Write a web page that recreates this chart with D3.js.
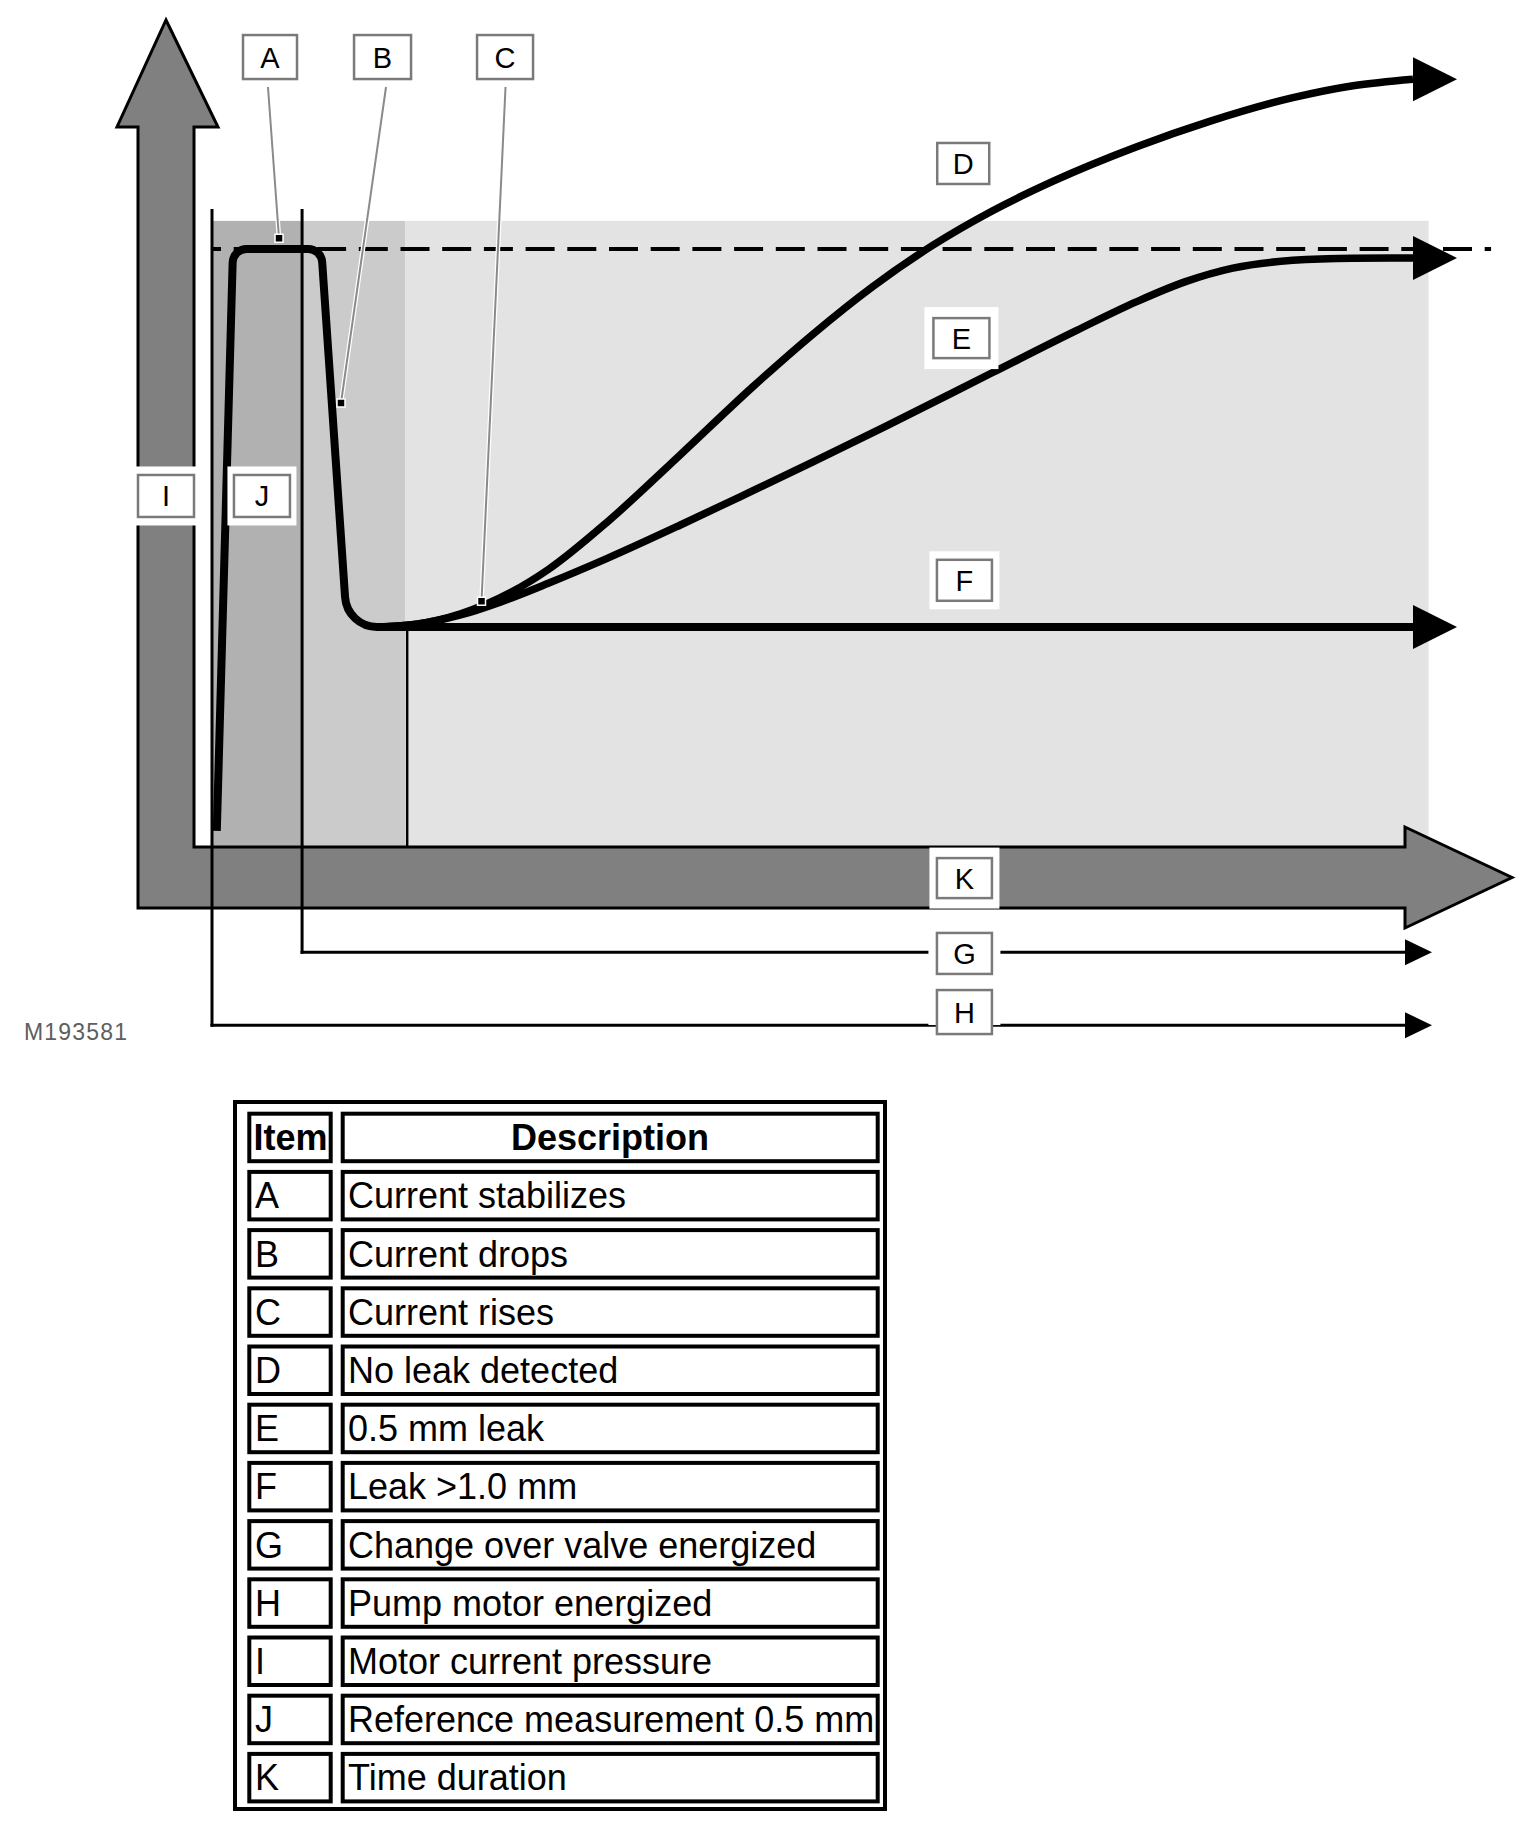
<!DOCTYPE html>
<html><head><meta charset="utf-8">
<script src="https://cdn.jsdelivr.net/npm/d3@7"></script>
<style>body{margin:0;background:#fff}svg{display:block}</style>
</head><body>
<svg id="chart" width="1527" height="1830"></svg>
<script>
// ---------------- DATA (time units 0..100, current units: 100 = reference level) ----------------
const referenceLevel = 100;
const leakLevel = 36.8;                 // F : leak > 1.0 mm plateau
const mainTime    = [0.4, 1.75, 9.1, 11.25, 100];
const mainCurrent = [2.7, 100, 100, 36.8, 36.8];

const noLeakTime    = [14, 17, 20.7, 25, 28, 33, 39, 45, 50, 55, 60, 65, 70, 77, 83, 90, 95, 100];
const noLeakCurrent = [36.8, 37.25, 39.0, 42.7, 46.4, 54.5, 65.6, 76.9, 85.7, 93.7, 100.6, 106.4, 111.3, 117.1, 121.3, 125.3, 127.3, 128.4];

const leak05Time    = [14, 17, 20.7, 24, 28, 33, 39, 45, 50, 56, 65, 72, 77, 81, 85, 90, 95, 100];
const leak05Current = [36.8, 37.25, 38.8, 40.95, 44.1, 48.35, 53.85, 59.55, 64.35, 70.25, 79.35, 86.4, 91.2, 94.5, 96.8, 98.1, 98.45, 98.5];

// phases: pump motor on (H), change over valve (G), measuring phase start, end
const phaseStart = [0, 7.5, 16.1];
const phaseEnd   = [7.5, 16.1, 101.3];
const shadeTop = 104.7;

const items = ["A","B","C","D","E","F","G","H","I","J","K"];
const descriptions = ["Current stabilizes","Current drops","Current rises","No leak detected","0.5 mm leak",
  "Leak >1.0 mm","Change over valve energized","Pump motor energized","Motor current pressure",
  "Reference measurement 0.5 mm","Time duration"];

// callout points (time, current) and label anchors
const calloutIds   = ["A","B","C"];
const calloutTime  = [5.58, 10.74, 22.44];
const calloutValue = [101.8, 74.25, 41.1];
const calloutTopT  = [4.66, 14.49, 24.44];

// ---------------- STYLE / LAYOUT ----------------
const svg = d3.select("#chart");
const x = d3.scaleLinear().domain([0, 100]).range([212, 1413]);
const y = d3.scaleLinear().domain([0, 100]).range([847, 249]);
const shadeColors = ["#b1b1b1", "#cbcbcb", "#e3e3e3"];
const axisFill = "#808080";
const fontFam = "'Liberation Sans', Arial, sans-serif";

// shaded phases
svg.append("g").selectAll("rect").data(phaseStart).join("rect")
  .attr("x", (d,i) => x(d)).attr("width", (d,i) => x(phaseEnd[i]) - x(d))
  .attr("y", y(shadeTop)).attr("height", y(0) - y(shadeTop))
  .attr("fill", (d,i) => shadeColors[i]);

// vertical separator under plateau
svg.append("line").attr("x1", x(16.25)).attr("x2", x(16.25))
  .attr("y1", y(leakLevel)).attr("y2", y(0)).attr("stroke", "#000").attr("stroke-width", 2.5);

// L-shaped axis arrows (I and K)
const ax = {l:138, r:194, headY:127, tipY:20, headL:117, headR:218, tipX:1512, top:847, bot:908, headT:827, headB:928, baseX:1405};
const axisPts = [
  [(ax.l+ax.r)/2, ax.tipY], [ax.headR, ax.headY], [ax.r, ax.headY], [ax.r, ax.top],
  [ax.baseX, ax.top], [ax.baseX, ax.headT], [ax.tipX, (ax.top+ax.bot)/2], [ax.baseX, ax.headB],
  [ax.baseX, ax.bot], [ax.l, ax.bot], [ax.l, ax.headY], [ax.headL, ax.headY]
];
svg.append("path").attr("d", "M" + axisPts.map(p => p.join(",")).join("L") + "Z")
  .attr("fill", axisFill).attr("stroke", "#000").attr("stroke-width", 3).attr("stroke-linejoin", "miter");

// H and G vertical + horizontal arrows
const phaseLineTop = 106.7;
const gV = -17.6, hV = -29.8;
const arrowEndX = 1405;
[[0, hV], [7.5, gV]].forEach(([t, v]) => {
  svg.append("line").attr("x1", x(t)).attr("x2", x(t)).attr("y1", y(phaseLineTop)).attr("y2", y(v) + 1.5)
    .attr("stroke", "#000").attr("stroke-width", 3);
  svg.append("line").attr("x1", x(t) - 1.5).attr("x2", arrowEndX).attr("y1", y(v)).attr("y2", y(v))
    .attr("stroke", "#000").attr("stroke-width", 3);
  svg.append("path").attr("d", `M${arrowEndX},${y(v)-13}L${arrowEndX+27},${y(v)}L${arrowEndX},${y(v)+13}Z`).attr("fill", "#000");
});

// dashed reference level
svg.append("line").attr("x1", x(0)).attr("x2", x(106.5)).attr("y1", y(referenceLevel)).attr("y2", y(referenceLevel))
  .attr("stroke", "#000").attr("stroke-width", 4).attr("stroke-dasharray", "29,12.7").attr("stroke-dashoffset", 20);

// curves
const curveG = svg.append("g").attr("fill", "none").attr("stroke", "#000");
const cornerRadii = [0, 14, 14, 32, 0];
const mp = d3.path();
const mPts = mainTime.map((t,i) => [x(t), y(mainCurrent[i])]);
mp.moveTo(mPts[0][0], mPts[0][1]);
for (let i = 1; i < mPts.length - 1; i++) mp.arcTo(mPts[i][0], mPts[i][1], mPts[i+1][0], mPts[i+1][1], cornerRadii[i]);
mp.lineTo(mPts[mPts.length-1][0], mPts[mPts.length-1][1]);
curveG.append("path").attr("d", mp.toString()).attr("stroke-width", 8);

const lineGen = d3.line().x(d => x(d[0])).y(d => y(d[1])).curve(d3.curveMonotoneX);
curveG.append("path").attr("d", lineGen(noLeakTime.map((t,i) => [t, noLeakCurrent[i]]))).attr("stroke-width", 7.5);
curveG.append("path").attr("d", lineGen(leak05Time.map((t,i) => [t, leak05Current[i]]))).attr("stroke-width", 7.5);

[noLeakCurrent[noLeakCurrent.length-1], leak05Current[leak05Current.length-1], leakLevel].forEach(v => {
  const bx = x(100), by = y(v);
  svg.append("path").attr("d", `M${bx},${by-22}L${bx+44},${by}L${bx},${by+22}Z`).attr("fill", "#000");
});

// callout leaders
const calloutTopY = 87;
calloutIds.forEach((id, i) => {
  const x1 = x(calloutTopT[i]), x2 = x(calloutTime[i]), y2 = y(calloutValue[i]);
  svg.append("line").attr("x1", x1).attr("y1", calloutTopY).attr("x2", x2).attr("y2", y2)
    .attr("stroke", "#fff").attr("stroke-width", 4.5);
  svg.append("line").attr("x1", x1).attr("y1", calloutTopY).attr("x2", x2).attr("y2", y2)
    .attr("stroke", "#8a8a8a").attr("stroke-width", 2);
  svg.append("rect").attr("x", x2 - 4).attr("y", y2 - 4).attr("width", 8).attr("height", 8)
    .attr("fill", "#000").attr("stroke", "#fff").attr("stroke-width", 1.5);
});

// label boxes (positions in chart units)
const labelIds = ["A","B","C","D","E","F","I","J","K","G","H"];
const labelT   = [4.83, 14.2, 24.4, 62.55, 62.4, 62.65, -3.83, 4.16, 62.65, 62.65, 62.65];
const labelV   = [132.1, 132.1, 132.1, 114.3, 85.1, 44.6, 58.7, 58.7, -5.2, -17.8, -27.6];
const labelW   = [54, 57, 56, 52, 56, 55, 56, 56, 55, 55, 55];
const labelH   = [44, 44, 44, 41, 40, 41, 42, 42, 40, 41, 44];
const bgW      = [0, 0, 0, 0, 74, 70, 66, 69, 70, 72, 72];
const bgH      = [0, 0, 0, 0, 62, 58, 59, 59, 61, 26, 26];
labelIds.forEach((id, i) => {
  const cx = x(labelT[i]), cy = y(labelV[i]);
  if (bgW[i]) svg.append("rect").attr("x", cx - bgW[i]/2).attr("y", cy - bgH[i]/2)
    .attr("width", bgW[i]).attr("height", bgH[i]).attr("fill", "#fff");
  svg.append("rect").attr("x", cx - labelW[i]/2).attr("y", cy - labelH[i]/2)
    .attr("width", labelW[i]).attr("height", labelH[i]).attr("fill", "#fff")
    .attr("stroke", "#7a7a7a").attr("stroke-width", 2.5);
  svg.append("text").attr("x", cx).attr("y", cy + 10.5).attr("text-anchor", "middle")
    .attr("font-family", fontFam).attr("font-size", 29).attr("fill", "#000").text(id);
});

// figure id
svg.append("text").attr("x", 24).attr("y", 1040).attr("font-family", fontFam).attr("font-size", 23)
  .attr("letter-spacing", 1.2).attr("fill", "#5e5e5e").text("M193581");

// ---------------- TABLE ----------------
const tbl = svg.append("g").attr("font-family", fontFam).attr("font-size", 36);
tbl.append("rect").attr("x", 235).attr("y", 1102).attr("width", 650).attr("height", 707)
  .attr("fill", "none").attr("stroke", "#000").attr("stroke-width", 4);
const rowTop = i => 1111.7 + i * 58.2;
const rows = [{item: "Item", desc: "Description", header: true}]
  .concat(items.map((it, i) => ({item: it, desc: descriptions[i], header: false})));
rows.forEach((r, i) => {
  const top = rowTop(i);
  tbl.append("rect").attr("x", 249.3).attr("y", top + 2).attr("width", 81.4).attr("height", 47.5)
    .attr("fill", "#fff").attr("stroke", "#000").attr("stroke-width", 4);
  tbl.append("rect").attr("x", 342.7).attr("y", top + 2).attr("width", 535).attr("height", 47.5)
    .attr("fill", "#fff").attr("stroke", "#000").attr("stroke-width", 4);
  tbl.append("text").attr("x", r.header ? 253.5 : 255).attr("y", top + 38.5)
    .attr("font-weight", r.header ? "bold" : "normal").text(r.item);
  tbl.append("text").attr("x", r.header ? 610 : 348).attr("y", top + 38.5)
    .attr("text-anchor", r.header ? "middle" : "start")
    .attr("font-weight", r.header ? "bold" : "normal").text(r.desc);
});
</script>
</body></html>
